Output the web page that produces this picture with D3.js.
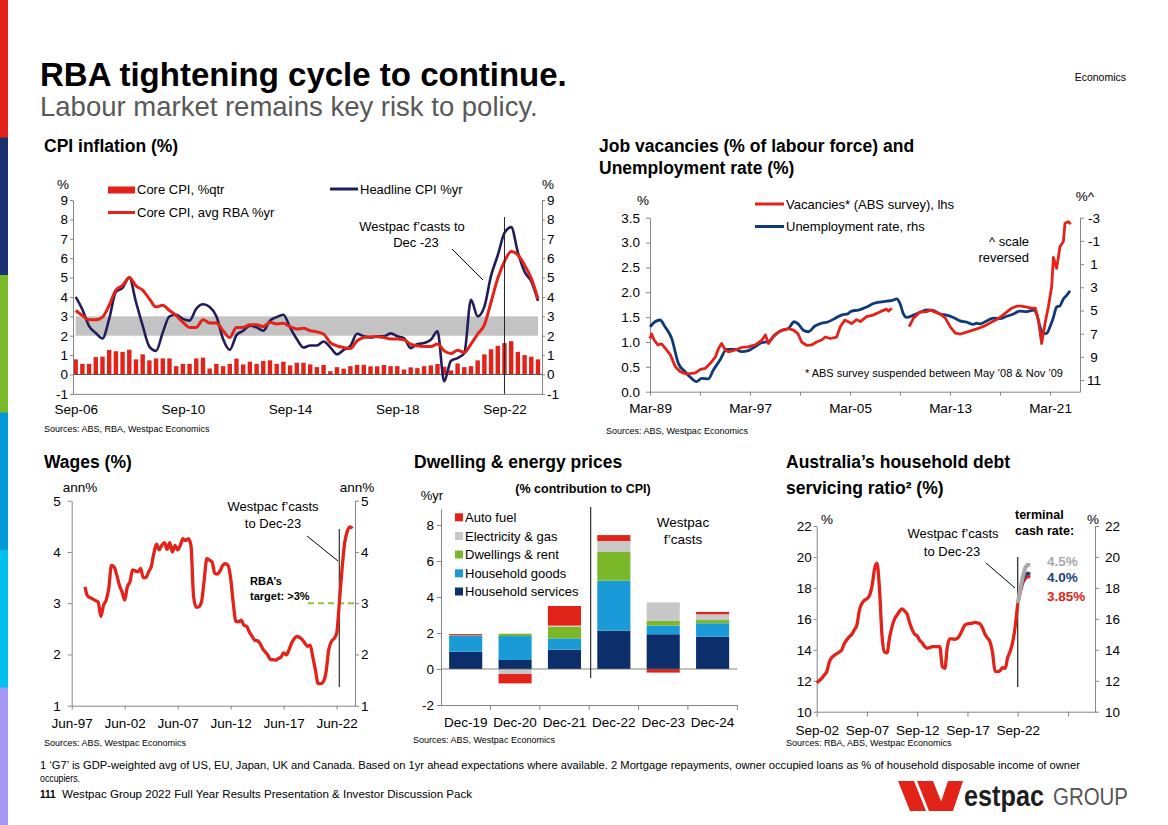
<!DOCTYPE html>
<html><head><meta charset="utf-8">
<script src="https://cdn.jsdelivr.net/npm/d3@7"></script>
<style>
body{margin:0;background:#fff;}
svg{display:block;font-family:"Liberation Sans",Arial,Helvetica,sans-serif;}
</style></head><body>
<svg id="c" width="1168" height="825"></svg>
<script>
// ---------------- DATA ----------------
// CPI inflation: quarterly from Sep-06 (index 0) to Dec-23 (index 69)
const cpiTickIdx = [0, 16, 32, 48, 64];
const cpiTickLabels = ["Sep-06", "Sep-10", "Sep-14", "Sep-18", "Sep-22"];
const cpiCoreQtr = [0.78,0.55,0.55,0.9,0.92,1.27,1.2,1.17,1.28,0.78,
  1.04,0.73,0.83,0.83,0.83,0.43,0.55,0.55,0.83,0.87,
  0.31,0.55,0.43,0.55,0.82,0.52,0.66,0.55,0.7,0.73,
  0.55,0.66,0.47,0.61,0.61,0.52,0.38,0.49,0.17,0.38,
  0.3,0.43,0.5,0.5,0.42,0.42,0.49,0.43,0.43,0.26,
  0.37,0.33,0.43,0.47,0.54,0.4,0.21,0.57,0.38,0.43,
  0.73,1.04,1.3,1.48,1.62,1.72,1.17,1.0,0.92,0.78];
const cpiHeadline = [4.0,3.35,2.5,2.14,1.86,2.87,4.26,4.47,5.0,3.74,
  2.52,1.44,1.22,2.17,3.0,3.08,2.87,2.78,3.39,3.62,
  3.48,3.0,1.83,1.27,2.03,2.26,2.52,2.43,2.26,2.78,
  2.96,3.08,2.43,1.83,1.39,1.5,1.5,1.7,1.4,1.04,
  1.27,1.48,2.1,1.97,1.91,1.97,1.97,2.12,1.97,1.88,
  1.36,1.57,1.62,1.79,2.23,-0.35,0.7,0.85,1.1,3.85,
  3.0,3.5,5.1,6.15,7.3,7.6,6.3,5.3,4.8,3.8];
const cpiCoreAvg = [3.3,3.04,2.82,2.82,2.96,3.57,4.35,4.6,5.0,4.57,
  4.35,3.9,3.48,3.57,3.3,3.04,2.7,2.43,2.43,2.83,
  2.66,2.66,2.26,1.91,2.43,2.43,2.56,2.56,2.47,2.7,
  2.61,2.64,2.47,2.35,2.38,2.26,2.2,2.09,1.65,1.48,
  1.39,1.34,1.74,1.91,1.95,1.95,1.91,1.83,1.83,1.79,
  1.57,1.48,1.44,1.44,1.57,1.22,1.08,1.25,1.13,1.57,
  2.09,2.56,3.74,4.96,5.83,6.35,6.17,5.65,4.96,3.91];
const cpiBand = [2, 3];
const cpiFcstIdx = 64;

// Job vacancies (% labour force, lhs) and unemployment rate (% rhs, reversed); [decimal year, value]
const vacTickYears = [1989.17,1993.17,1997.17,2001.17,2005.17,2009.17,2013.17,2017.17,2021.17];
const vacTickLabels = ["Mar-89","","Mar-97","","Mar-05","","Mar-13","","Mar-21"];
const vacancies = [[1989.17,1.07],[1989.3,1.16],[1989.5,1.04],[1989.8,0.94],[1990.1,0.96],[1990.4,0.87],
  [1990.8,0.74],[1991.2,0.5],[1991.6,0.4],[1992.0,0.36],[1992.5,0.37],[1992.8,0.38],[1993.2,0.45],
  [1993.6,0.47],[1994.0,0.57],[1994.4,0.7],[1994.65,0.87],[1994.9,0.97],[1995.2,0.84],[1995.45,0.8],
  [1996.0,0.84],[1996.5,0.89],[1997.0,0.9],[1997.6,0.94],[1998.1,1.03],[1998.4,1.14],[1998.65,0.97],
  [1999.0,1.1],[1999.45,1.2],[1999.85,1.24],[2000.25,1.27],[2000.65,1.24],[2001.0,1.17],[2001.3,1.0],
  [2001.7,0.93],[2002.1,0.94],[2002.5,1.0],[2002.9,1.04],[2003.2,1.1],[2003.6,1.07],[2004.1,1.1],
  [2004.4,1.31],[2004.75,1.44],[2005.3,1.37],[2005.7,1.45],[2006.0,1.41],[2006.5,1.51],[2007.0,1.54],
  [2007.6,1.61],[2008.1,1.66],[2008.25,1.62],[2008.5,1.68],[2009.2,null],
  [2009.9,1.31],[2010.25,1.48],[2010.75,1.6],[2011.3,1.61],[2011.6,1.64],[2012.0,1.6],[2012.4,1.56],
  [2012.8,1.48],[2013.2,1.3],[2013.6,1.18],[2014.0,1.16],[2014.5,1.2],[2015.0,1.24],[2015.5,1.28],
  [2016.0,1.33],[2016.5,1.4],[2016.9,1.45],[2017.3,1.52],[2017.7,1.6],[2018.1,1.68],[2018.5,1.72],
  [2018.9,1.72],[2019.3,1.7],[2019.7,1.68],[2020.0,1.68],[2020.24,1.44],[2020.5,0.97],[2020.77,1.37],
  [2021.04,1.71],[2021.3,2.11],[2021.44,2.7],[2021.7,2.48],[2021.97,2.92],[2022.24,3.02],
  [2022.37,3.39],[2022.64,3.42],[2022.82,3.37]];
const unemployment = [[1989.17,6.4],[1989.57,5.97],[1989.97,5.82],[1990.37,6.4],[1990.9,7.4],[1991.44,9.56],
  [1991.97,10.28],[1992.5,10.85],[1992.9,11.14],[1993.3,10.85],[1993.84,10.9],[1994.24,10.13],
  [1994.77,9.27],[1995.3,8.35],[1995.97,8.35],[1996.5,8.55],[1997.04,8.46],[1997.57,8.12],[1998.1,7.78],
  [1998.64,7.69],[1999.17,7.1],[1999.7,6.7],[2000.24,6.54],[2000.7,5.97],[2001.04,6.17],[2001.44,6.7],
  [2001.84,6.83],[2002.37,6.34],[2002.9,6.1],[2003.44,5.97],[2003.97,5.68],[2004.5,5.4],[2005.04,5.25],
  [2005.3,5.05],[2005.84,4.96],[2006.5,4.7],[2007.04,4.4],[2007.57,4.27],[2008.1,4.2],[2008.64,4.1],
  [2008.9,4.0],[2009.17,4.4],[2009.44,5.3],[2009.7,5.6],[2010.24,5.4],[2010.77,5.15],[2011.3,4.95],
  [2011.84,5.0],[2012.37,5.3],[2012.9,5.4],[2013.44,5.6],[2013.97,5.9],[2014.5,6.0],[2015.04,6.2],
  [2015.3,6.1],[2015.57,6.15],[2016.1,5.9],[2016.64,5.65],[2017.17,5.7],[2017.7,5.5],[2018.24,5.3],
  [2018.77,5.05],[2019.3,5.1],[2019.84,4.97],[2020.1,5.3],[2020.37,6.4],[2020.64,7.0],[2020.9,6.97],
  [2021.17,6.4],[2021.44,5.6],[2021.7,4.7],[2021.97,4.6],[2022.24,4.0],[2022.5,3.7],[2022.77,3.3]];

// Wages: quarterly annual % from Sep-98 (index 0) to Dec-23 (index 101)
const wagesStartYear = 1998.67;
const wagesTickYears = [1997.42, 2002.42, 2007.42, 2012.42, 2017.42, 2022.42];
const wagesTickLabels = ["Jun-97","Jun-02","Jun-07","Jun-12","Jun-17","Jun-22"];
const wages = [3.32,3.14,3.11,3.08,3.05,3.02,2.74,2.96,3.06,3.29,
  3.74,3.71,3.55,3.35,3.22,3.06,3.32,3.42,3.65,3.63,
  3.61,3.68,3.5,3.5,3.61,3.71,3.97,4.15,4.04,4.13,
  4.18,4.05,4.18,4.0,4.13,4.04,4.13,4.26,4.22,4.26,
  4.13,3.13,2.92,2.93,3.03,3.45,3.87,3.84,3.8,3.58,
  3.57,3.63,3.74,3.77,3.74,3.48,2.99,2.64,2.64,2.67,
  2.57,2.55,2.44,2.36,2.28,2.27,2.22,2.12,2.05,1.99,
  1.9,1.9,1.89,1.92,1.95,2.03,1.99,2.09,2.22,2.31,
  2.35,2.33,2.29,2.22,2.16,2.18,1.95,1.69,1.43,1.43,
  1.47,1.66,2.09,2.25,2.31,2.41,3.0,3.65,4.17,4.4,
  4.49,4.46];
const wagesFcstIdx = 96;
const wagesTarget = 3;

// Dwelling & energy prices (% contribution to CPI)
const dwCategories = ["Dec-19","Dec-20","Dec-21","Dec-22","Dec-23","Dec-24"];
const dwServices    = [0.96, 0.5, 1.07, 2.13, 1.93, 1.8];
const dwGoods       = [0.9, 1.33, 0.63, 2.78, 0.48, 0.74];
const dwDwellings   = [0.02, 0.13, 0.65, 1.61, 0.26, 0.18];
const dwElectricity = [0.0, -0.28, 0.06, 0.59, 1.03, 0.32];
const dwFuel        = [0.06, -0.52, 1.09, 0.33, -0.2, 0.13];
const dwSeries = ["Household services","Household goods","Dwellings & rent","Electricity & gas","Auto fuel"];
const dwColors = ["#0c2e6b","#1a9ad6","#7ab829","#c8c8c8","#e2231a"];

// Household debt servicing ratio: quarterly from Sep-02 (index 0) to Sep-22 (index 80)
const debtStartYear = 2002.67;
const debtTickYears = [2002.67, 2007.67, 2012.67, 2017.67, 2022.67, 2027.67];
const debtTickLabels = ["Sep-02","Sep-07","Sep-12","Sep-17","Sep-22",""];
const debtRatio = [11.87,12.0,12.15,12.37,12.59,13.2,13.5,13.64,13.75,13.86,
  14.0,14.4,14.65,14.85,15.0,15.3,15.6,16.57,17.0,17.2,
  17.3,17.5,18.1,19.2,19.6,17.9,14.9,13.85,13.8,14.8,
  15.5,16.0,16.25,16.5,16.65,16.5,16.3,15.75,15.3,15.0,
  14.9,14.6,14.45,14.2,14.1,14.15,14.2,14.2,14.2,14.2,
  12.9,12.8,14.2,14.7,14.7,14.68,14.75,14.96,15.3,15.6,
  15.68,15.7,15.72,15.77,15.73,15.68,15.4,15.0,14.75,14.5,
  13.8,12.6,12.59,12.65,12.85,12.8,13.5,13.9,14.5,15.5,
  17.0];
// forecasts Sep-22 .. Dec-23 under terminal cash rates
const debtFcst385 = [17.0,17.7,18.3,18.6,18.75,18.7];
const debtFcst40  = [17.0,17.8,18.45,18.85,18.95,18.9];
const debtFcst45  = [17.0,17.9,18.7,19.3,19.5,19.45];
const debtFcstStartIdx = 80;

// ---------------- DRAWING ----------------
const FONT = "'Liberation Sans', Arial, sans-serif";
const AX = "#868686";
const RED = "#e2231a";
const fmtInt = d => String(d);
const svg = d3.select("#c");

function txt(x, y, s, o = {}) {
  const t = svg.append("text").attr("x", x).attr("y", y).text(s)
    .attr("font-size", o.size || 13).attr("fill", o.fill || "#000")
    .attr("text-anchor", o.anchor || "start");
  if (o.bold) t.attr("font-weight", "bold");
  if (o.len) t.attr("textLength", o.len).attr("lengthAdjust", "spacingAndGlyphs");
  return t;
}
function styleAxis(g, fs) {
  g.attr("font-family", FONT).attr("font-size", fs || 13.5);
  g.select(".domain").attr("stroke", AX).attr("stroke-width", 1);
  g.selectAll(".tick line").attr("stroke", AX);
  g.selectAll(".tick text").attr("fill", "#000");
  return g;
}

// side colour bar
const sideCols = ["#e2231a","#1c2f6e","#7ab929","#0099d8","#00c0ef","#a596f4"];
sideCols.forEach((c, i) => svg.append("rect").attr("x", 0).attr("y", i * 137.5).attr("width", 8).attr("height", 138).attr("fill", c));

// titles
txt(40, 86, "RBA tightening cycle to continue.", {size: 33, bold: true});
txt(40, 116, "Labour market remains key risk to policy.", {size: 27.5, fill: "#595959"});
txt(1126, 81, "Economics", {size: 10.5, anchor: "end"});

// ===== Chart 1: CPI =====
{
  const x = d3.scaleLinear().domain([-0.4, 69.6]).range([73, 542]);
  const y = d3.scaleLinear().domain([-1, 9]).range([393.9, 200]);
  txt(44, 152, "CPI inflation (%)", {size: 17.5, bold: true});
  svg.append("rect").attr("x", x(0)).attr("width", x(69) - x(0))
    .attr("y", y(cpiBand[1])).attr("height", y(cpiBand[0]) - y(cpiBand[1])).attr("fill", "#c3c3c3");
  svg.append("g").selectAll("rect").data(cpiCoreQtr).join("rect")
    .attr("x", (d, i) => x(i) - 2.2).attr("width", 4.4)
    .attr("y", d => y(Math.max(0, d))).attr("height", d => Math.abs(y(d) - y(0)))
    .attr("fill", RED);
  svg.append("line").attr("x1", 73).attr("x2", 542).attr("y1", y(0)).attr("y2", y(0)).attr("stroke", "#555").attr("stroke-width", 1.2);
  styleAxis(svg.append("g").attr("transform", "translate(73,0)")
    .call(d3.axisLeft(y).tickValues(d3.range(-1, 10)).tickFormat(fmtInt).tickSize(3).tickPadding(2).tickSizeOuter(0)));
  styleAxis(svg.append("g").attr("transform", "translate(542,0)")
    .call(d3.axisRight(y).tickValues(d3.range(-1, 10)).tickFormat(fmtInt).tickSize(3).tickPadding(2).tickSizeOuter(0)));
  styleAxis(svg.append("g").attr("transform", `translate(0,${y(-1)})`)
    .call(d3.axisBottom(x).tickValues(cpiTickIdx).tickFormat((d, i) => cpiTickLabels[i]).tickSize(0).tickPadding(11).tickSizeOuter(0)));
  const ln = d3.line().x((d, i) => x(i)).y(d => y(d)).curve(d3.curveMonotoneX);
  svg.append("path").datum(cpiHeadline).attr("d", ln).attr("fill", "none").attr("stroke", "#211d5a").attr("stroke-width", 2.6).attr("stroke-linejoin", "round");
  svg.append("path").datum(cpiCoreAvg).attr("d", ln).attr("fill", "none").attr("stroke", RED).attr("stroke-width", 3).attr("stroke-linejoin", "round");
  svg.append("line").attr("x1", x(cpiFcstIdx)).attr("x2", x(cpiFcstIdx)).attr("y1", 217).attr("y2", y(-1)).attr("stroke", "#222").attr("stroke-width", 1);
  txt(412, 231, "Westpac f’casts to", {size: 13, anchor: "middle"});
  txt(416, 247, "Dec -23", {size: 13, anchor: "middle"});
  svg.append("line").attr("x1", 452).attr("y1", 249).attr("x2", 483).attr("y2", 280).attr("stroke", "#000").attr("stroke-width", 1);
  txt(63, 189, "%", {size: 13.5, anchor: "middle"});
  txt(548, 189, "%", {size: 13.5, anchor: "middle"});
  svg.append("rect").attr("x", 108).attr("y", 186.5).attr("width", 27).attr("height", 7).attr("fill", RED);
  txt(137, 194, "Core CPI, %qtr", {size: 13});
  svg.append("line").attr("x1", 108).attr("x2", 135).attr("y1", 212.5).attr("y2", 212.5).attr("stroke", RED).attr("stroke-width", 3);
  txt(137, 217, "Core CPI, avg RBA %yr", {size: 13});
  svg.append("line").attr("x1", 330).attr("x2", 358).attr("y1", 189).attr("y2", 189).attr("stroke", "#211d5a").attr("stroke-width", 3);
  txt(360, 194, "Headline CPI %yr", {size: 13});
  txt(44, 432, "Sources: ABS, RBA, Westpac Economics", {size: 9});
}

// ===== Chart 2: Vacancies & unemployment =====
{
  const x = d3.scaleLinear().domain([1989.17, 2023.57]).range([650, 1080]);
  const yL = d3.scaleLinear().domain([0, 3.5]).range([391.7, 217.7]);
  const yR = d3.scaleLinear().domain([-3, 12]).range([217.7, 391.7]);
  txt(599, 152, "Job vacancies (% of labour force) and", {size: 17.5, bold: true});
  txt(599, 174, "Unemployment rate (%)", {size: 17.5, bold: true});
  styleAxis(svg.append("g").attr("transform", "translate(650,0)")
    .call(d3.axisLeft(yL).tickValues(d3.range(0, 3.51, 0.5)).tickFormat(d3.format(".1f")).tickSize(4).tickPadding(6).tickSizeOuter(0)));
  const gr = styleAxis(svg.append("g").attr("transform", "translate(1080,0)")
    .call(d3.axisRight(yR).tickValues([-3,-1,1,3,5,7,9,11]).tickFormat(fmtInt).tickSize(4).tickPadding(2).tickSizeOuter(0)));
  gr.selectAll(".tick text").attr("text-anchor", "middle").attr("x", 14);
  styleAxis(svg.append("g").attr("transform", "translate(0,391.7)")
    .call(d3.axisBottom(x).tickValues(vacTickYears).tickFormat((d, i) => vacTickLabels[i]).tickSize(4).tickPadding(7.5).tickSizeOuter(0)));
  const lnV = d3.line().defined(d => d[1] != null).x(d => x(d[0])).y(d => yL(d[1]));
  const lnU = d3.line().x(d => x(d[0])).y(d => yR(d[1])).curve(d3.curveMonotoneX);
  svg.append("path").datum(unemployment).attr("d", lnU).attr("fill", "none").attr("stroke", "#0f3a78").attr("stroke-width", 2.8).attr("stroke-linejoin", "round");
  svg.append("path").datum(vacancies).attr("d", lnV).attr("fill", "none").attr("stroke", RED).attr("stroke-width", 2.8).attr("stroke-linejoin", "round");
  txt(643, 205, "%", {size: 13.5, anchor: "middle"});
  txt(1085, 201, "%^", {size: 13.5, anchor: "middle"});
  svg.append("line").attr("x1", 755).attr("x2", 784).attr("y1", 204).attr("y2", 204).attr("stroke", RED).attr("stroke-width", 3);
  txt(786, 209, "Vacancies* (ABS survey), lhs", {size: 13});
  svg.append("line").attr("x1", 755).attr("x2", 784).attr("y1", 226.5).attr("y2", 226.5).attr("stroke", "#0f3a78").attr("stroke-width", 3);
  txt(786, 231, "Unemployment rate, rhs", {size: 13});
  txt(1029, 246, "^ scale", {size: 13, anchor: "end"});
  txt(1029, 262, "reversed", {size: 13, anchor: "end"});
  txt(1063, 377, "* ABS survey suspended between May ’08 & Nov ’09", {size: 11, anchor: "end"});
  txt(606, 434, "Sources: ABS, Westpac Economics", {size: 9});
}

// ===== Chart 3: Wages =====
{
  const x = d3.scaleLinear().domain([1997.42, 2024.15]).range([71.7, 355]);
  const y = d3.scaleLinear().domain([1, 5]).range([705.7, 500.7]);
  txt(44, 468, "Wages (%)", {size: 17.5, bold: true});
  styleAxis(svg.append("g").attr("transform", "translate(71.7,0)")
    .call(d3.axisLeft(y).tickValues([1,2,3,4,5]).tickFormat(fmtInt).tickSize(4).tickPadding(7).tickSizeOuter(0)));
  styleAxis(svg.append("g").attr("transform", "translate(355,0)")
    .call(d3.axisRight(y).tickValues([1,2,3,4,5]).tickFormat(fmtInt).tickSize(4).tickPadding(2).tickSizeOuter(0)));
  styleAxis(svg.append("g").attr("transform", "translate(0,705.7)")
    .call(d3.axisBottom(x).tickValues(wagesTickYears).tickFormat((d, i) => wagesTickLabels[i]).tickSize(4).tickPadding(8.5).tickSizeOuter(0)));
  svg.append("line").attr("x1", 308).attr("x2", 355).attr("y1", y(wagesTarget)).attr("y2", y(wagesTarget))
    .attr("stroke", "#8cc63e").attr("stroke-width", 2).attr("stroke-dasharray", "6,4");
  const xf = x(wagesStartYear + wagesFcstIdx * 0.25);
  svg.append("line").attr("x1", xf).attr("x2", xf).attr("y1", 529).attr("y2", 687).attr("stroke", "#333").attr("stroke-width", 1.2);
  const ln = d3.line().x((d, i) => x(wagesStartYear + i * 0.25)).y(d => y(d)).curve(d3.curveMonotoneX);
  svg.append("path").datum(wages).attr("d", ln).attr("fill", "none").attr("stroke", RED).attr("stroke-width", 3.3).attr("stroke-linejoin", "round");
  txt(80, 492, "ann%", {size: 13.5, anchor: "middle"});
  txt(357, 492, "ann%", {size: 13.5, anchor: "middle"});
  txt(273, 511, "Westpac f’casts", {size: 13, anchor: "middle"});
  txt(273, 528, "to Dec-23", {size: 13, anchor: "middle"});
  svg.append("line").attr("x1", 307).attr("y1", 536).attr("x2", 338).attr("y2", 561).attr("stroke", "#000").attr("stroke-width", 1);
  txt(250, 585, "RBA’s", {size: 11, bold: true});
  txt(250, 600, "target: >3%", {size: 11, bold: true});
  txt(44, 746, "Sources: ABS, Westpac Economics", {size: 9});
}

// ===== Chart 4: Dwelling & energy =====
{
  const x = d3.scaleBand().domain(dwCategories).range([441, 737.3]).paddingInner(0.33).paddingOuter(0.165);
  const y = d3.scaleLinear().domain([-2, 9]).range([705, 705 - 11 * 18]);
  txt(414, 468, "Dwelling & energy prices", {size: 17.5, bold: true});
  txt(583, 493, "(% contribution to CPI)", {size: 12.5, bold: true, anchor: "middle"});
  txt(432, 500, "%yr", {size: 13, anchor: "middle"});
  const rows = dwCategories.map((c, i) => ({cat: c, "Household services": dwServices[i], "Household goods": dwGoods[i],
    "Dwellings & rent": dwDwellings[i], "Electricity & gas": dwElectricity[i], "Auto fuel": dwFuel[i]}));
  const stack = d3.stack().keys(dwSeries).offset(d3.stackOffsetDiverging)(rows);
  svg.append("g").selectAll("g").data(stack).join("g").attr("fill", (d, i) => dwColors[i])
    .selectAll("rect").data(d => d).join("rect")
    .attr("x", d => x(d.data.cat)).attr("width", x.bandwidth())
    .attr("y", d => y(Math.max(d[0], d[1]))).attr("height", d => Math.abs(y(d[0]) - y(d[1])));
  svg.append("line").attr("x1", 441).attr("x2", 737.3).attr("y1", y(0)).attr("y2", y(0)).attr("stroke", "#666").attr("stroke-width", 0.8);
  const yAxisScale = d3.scaleLinear().domain([-2, 8.9]).range([y(-2), y(8.9)]);
  styleAxis(svg.append("g").attr("transform", "translate(441,0)")
    .call(d3.axisLeft(yAxisScale).tickValues([-2,0,2,4,6,8]).tickFormat(fmtInt).tickSize(4).tickPadding(3).tickSizeOuter(0)));
  styleAxis(svg.append("g").attr("transform", `translate(0,${y(-2)})`)
    .call(d3.axisBottom(x).tickSize(0).tickPadding(12).tickSizeOuter(0)));
  const step = x.step();
  dwCategories.forEach((c, i) => {
    const bx = x(c) + x.bandwidth() + (step - x.bandwidth()) / 2;
    svg.append("line").attr("x1", bx).attr("x2", bx).attr("y1", y(-2)).attr("y2", y(-2) + 5).attr("stroke", AX);
  });
  const sx = x("Dec-22") - (step - x.bandwidth()) / 2 + 1.5;
  svg.append("line").attr("x1", sx).attr("x2", sx).attr("y1", 507).attr("y2", 678).attr("stroke", "#333").attr("stroke-width", 1.2);
  txt(683, 527, "Westpac", {size: 13.5, anchor: "middle"});
  txt(683, 544, "f’casts", {size: 13.5, anchor: "middle"});
  const legY = [517.3, 536, 554.5, 573.3, 591.5];
  dwSeries.slice().reverse().forEach((s, i) => {
    svg.append("rect").attr("x", 455).attr("y", legY[i] - 4).attr("width", 8).attr("height", 8).attr("fill", dwColors[4 - i]);
    txt(465, legY[i] + 4.7, s, {size: 13});
  });
  txt(413, 743, "Sources: ABS, Westpac Economics", {size: 9});
}

// ===== Chart 5: Household debt servicing ratio =====
{
  const x = d3.scaleLinear().domain([2002.67, 2030.36]).range([816.7, 1095]);
  const y = d3.scaleLinear().domain([10, 22]).range([711.7, 526]);
  txt(786, 468, "Australia’s household debt", {size: 17.5, bold: true});
  txt(786, 494, "servicing ratio² (%)", {size: 17.5, bold: true});
  styleAxis(svg.append("g").attr("transform", "translate(816.7,0)")
    .call(d3.axisLeft(y).tickValues(d3.range(10, 23, 2)).tickFormat(fmtInt).tickSize(3).tickPadding(2).tickSizeOuter(0)));
  styleAxis(svg.append("g").attr("transform", "translate(1095,0)")
    .call(d3.axisRight(y).tickValues(d3.range(10, 23, 2)).tickFormat(fmtInt).tickSize(4).tickPadding(6).tickSizeOuter(0)));
  styleAxis(svg.append("g").attr("transform", "translate(0,711.7)")
    .call(d3.axisBottom(x).tickValues(debtTickYears).tickFormat((d, i) => debtTickLabels[i]).tickSize(5).tickPadding(8.5).tickSizeOuter(0)));
  const xq = i => x(debtStartYear + i * 0.25);
  svg.append("line").attr("x1", xq(debtFcstStartIdx)).attr("x2", xq(debtFcstStartIdx)).attr("y1", 557).attr("y2", 687).attr("stroke", "#222").attr("stroke-width", 1.2);
  const ln = d3.line().x((d, i) => xq(i)).y(d => y(d)).curve(d3.curveMonotoneX);
  svg.append("path").datum(debtRatio).attr("d", ln).attr("fill", "none").attr("stroke", RED).attr("stroke-width", 3.3).attr("stroke-linejoin", "round");
  const lnF = d3.line().x((d, i) => xq(debtFcstStartIdx + i)).y(d => y(d));
  svg.append("path").datum(debtFcst385).attr("d", lnF).attr("fill", "none").attr("stroke", RED).attr("stroke-width", 3);
  svg.append("path").datum(debtFcst40).attr("d", lnF).attr("fill", "none").attr("stroke", "#1d3f7c").attr("stroke-width", 3);
  svg.append("path").datum(debtFcst45).attr("d", lnF).attr("fill", "none").attr("stroke", "#a9a9a9").attr("stroke-width", 4);
  txt(827, 524, "%", {size: 13.5, anchor: "middle"});
  txt(1093, 524, "%", {size: 13.5, anchor: "middle"});
  txt(953, 538, "Westpac f’casts", {size: 13, anchor: "middle"});
  txt(952, 556, "to Dec-23", {size: 13, anchor: "middle"});
  svg.append("line").attr("x1", 986).attr("y1", 563).attr("x2", 1015).attr("y2", 588).attr("stroke", "#000").attr("stroke-width", 1);
  txt(1015, 519, "terminal", {size: 12.5, bold: true});
  txt(1015, 535, "cash rate:", {size: 12.5, bold: true});
  txt(1047, 566, "4.5%", {size: 13.5, bold: true, fill: "#a9a9a9"});
  txt(1047, 582, "4.0%", {size: 13.5, bold: true, fill: "#1d3f7c"});
  txt(1047, 601, "3.85%", {size: 13.5, bold: true, fill: RED});
  txt(786, 746, "Sources: RBA, ABS, Westpac Economics", {size: 9});
}

// ===== Footer =====
txt(40, 769, "1 ‘G7’ is GDP-weighted avg of US, EU, Japan, UK and Canada. Based on 1yr ahead expectations where available. 2 Mortgage repayments, owner occupied loans as % of household disposable income of owner", {size: 10, len: 1040});
txt(40, 782, "occupiers.", {size: 10, len: 40});
txt(40, 798, "111", {size: 10, bold: true});
txt(62, 798, "Westpac Group 2022 Full Year Results Presentation & Investor Discussion Pack", {size: 10, len: 410});
// logo
svg.append("path").attr("d", "M898,781 L914,781 L926,811 L910,811 Z M917,781 L933,781 L945,811 L929,811 Z M948,781 L963,781 L953,811 L938,811 Z").attr("fill", RED);
txt(964, 806, "estpac", {size: 30, bold: true, fill: "#1e1e1e", len: 80});
txt(1053, 805, "GROUP", {size: 23, fill: "#555", len: 75});
</script></body></html>
